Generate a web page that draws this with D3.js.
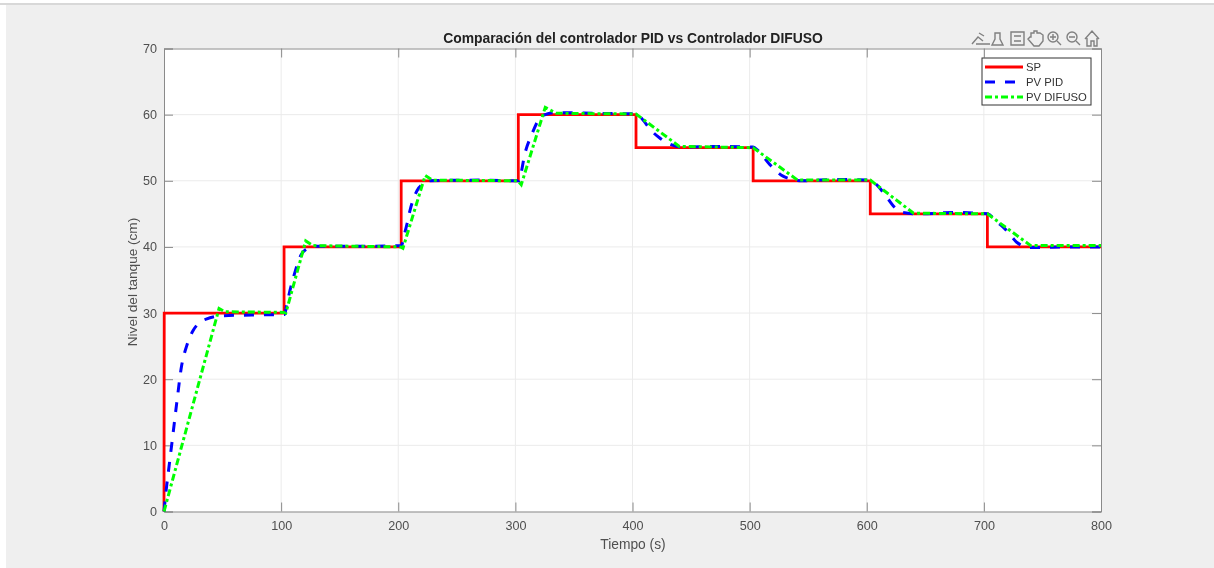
<!DOCTYPE html>
<html>
<head>
<meta charset="utf-8">
<script src="https://cdn.jsdelivr.net/npm/d3@7"></script>
<style>
  html, body { margin: 0; padding: 0; background: #fff; overflow: hidden; }
  text { font-family: "Liberation Sans", Arial, sans-serif; }
  svg { filter: blur(0.35px); }
</style>
</head>
<body>
<script>
// data
var xTicks = [0, 100, 200, 300, 400, 500, 600, 700, 800];
var yTicks = [0, 10, 20, 30, 40, 50, 60, 70];

var spTime = [0, 0.2, 102.5, 102.5, 202.5, 202.5, 302.5, 302.5, 403, 403, 503, 503, 603, 603, 703, 703, 800];
var spLevel = [0, 30, 30, 40, 40, 50, 50, 60, 60, 55, 55, 50, 50, 45, 45, 40, 40];

var pidTime = [0, 1.7, 4.3, 7.4, 10.8, 15, 19.3, 25, 36, 50, 75, 103, 104.5, 107, 112, 117, 122, 128, 170, 203, 204, 207.5, 210, 216, 222, 227, 270, 303, 304, 308, 314, 321, 327, 334.5, 370, 403, 409, 415, 423, 431, 442, 475, 503, 507, 517.5, 528.5, 534.5, 545, 575, 603, 609, 618, 622.7, 631, 645, 675, 703, 711, 716.5, 724, 728, 739.5, 775, 800];
var pidLevel = [0, 3, 6.8, 11.3, 16.3, 22, 25, 27.4, 29.1, 29.6, 29.7, 29.8, 31, 33, 36.3, 38.8, 39.7, 40.1, 40.1, 40.2, 41, 43.5, 45.5, 48.5, 49.6, 50, 50.1, 50, 50.5, 54, 57, 59.5, 60.1, 60.3, 60.2, 60.1, 59.2, 57.8, 56.5, 55.6, 55.1, 55.2, 55.1, 54.6, 52.4, 50.7, 50.3, 50, 50.2, 50.1, 49.3, 47.3, 46.2, 45.2, 45, 45.2, 45, 43.8, 43, 41.5, 40.7, 39.9, 40, 40];

var fuzzyTime = [0, 47, 52, 102, 104, 121, 127, 202, 204, 223, 229, 302, 305, 325.5, 335, 403, 440, 503, 541, 603, 640, 703, 740, 800];
var fuzzyLevel = [0, 30.7, 30.2, 30.1, 30, 40.9, 40.2, 40, 39.8, 50.8, 50.1, 50, 49.4, 61.1, 60.2, 60.1, 55.2, 55, 50.1, 50.1, 45.1, 45, 40.2, 40.2];

var legendLabels = ["SP", "PV PID", "PV DIFUSO"];

var margin = { top: 48.5, right: 113, bottom: 56.5, left: 164 },
    width = 1214 - margin.left - margin.right,
    height = 568 - margin.top - margin.bottom;

var axisColor = "#8a8a8a", textColor = "#4f4f4f";

var root = d3.select("body").append("svg")
    .attr("width", 1214)
    .attr("height", 568)
    .style("display", "block");

// figure background
root.append("rect").attr("x", 6).attr("y", 5).attr("width", 1208).attr("height", 563).attr("fill", "#efefef");
root.append("rect").attr("x", 0).attr("y", 3).attr("width", 1214).attr("height", 2).attr("fill", "#d8d8d8");

var svg = root.append("g")
    .attr("transform", "translate(" + margin.left + "," + margin.top + ")");

var xScale = d3.scaleLinear().domain([0, 800]).range([0, width]);
var yScale = d3.scaleLinear().domain([0, 70]).range([height, 0]);

svg.append("rect").attr("width", width).attr("height", height).attr("fill", "#fff");

// grid
svg.selectAll(".gx").data(xTicks.slice(1, -1)).enter().append("line")
    .attr("x1", function (d) { return xScale(d); })
    .attr("x2", function (d) { return xScale(d); })
    .attr("y1", 0).attr("y2", height)
    .attr("stroke", "#ebebeb");
svg.selectAll(".gy").data(yTicks.slice(1, -1)).enter().append("line")
    .attr("y1", function (d) { return yScale(d); })
    .attr("y2", function (d) { return yScale(d); })
    .attr("x1", 0).attr("x2", width)
    .attr("stroke", "#ebebeb");

// axes, ticks point inward like matlab
var xAxis = svg.append("g")
    .attr("transform", "translate(0," + height + ")")
    .call(d3.axisBottom(xScale).tickValues(xTicks).tickSize(-9).tickPadding(10));
var yAxis = svg.append("g")
    .call(d3.axisLeft(yScale).tickValues(yTicks).tickSize(-9).tickPadding(7));
var xTop = svg.append("g")
    .call(d3.axisTop(xScale).tickValues(xTicks).tickSize(-9).tickFormat(""));
var yRight = svg.append("g")
    .attr("transform", "translate(" + width + ",0)")
    .call(d3.axisRight(yScale).tickValues(yTicks).tickSize(-9).tickFormat(""));

[xAxis, yAxis, xTop, yRight].forEach(function (a) {
    a.selectAll("path, line").attr("stroke", axisColor);
    a.selectAll("text").attr("fill", textColor).style("font-size", "12.6px").style("font-family", '"Liberation Sans", Arial, sans-serif');
});

// curves
function series(xs, ys) {
    return xs.map(function (t, i) { return [t, ys[i]]; });
}
var line = d3.line()
    .x(function (d) { return xScale(d[0]); })
    .y(function (d) { return yScale(d[1]); });
var smoothLine = d3.line()
    .curve(d3.curveMonotoneX)
    .x(function (d) { return xScale(d[0]); })
    .y(function (d) { return yScale(d[1]); });

var styles = [
    { color: "#ff0000", dash: null, width: 2.8 },
    { color: "#0000ff", dash: "10,10", width: 3 },
    { color: "#00ff00", dash: "7,3,3,3", width: 3 }
];
var curves = [series(spTime, spLevel), series(pidTime, pidLevel), series(fuzzyTime, fuzzyLevel)];

svg.selectAll(".curve").data(curves).enter().append("path")
    .attr("d", function (d, i) { return i == 1 ? smoothLine(d) : line(d); })
    .attr("fill", "none")
    .attr("stroke", function (d, i) { return styles[i].color; })
    .attr("stroke-width", function (d, i) { return styles[i].width; })
    .attr("stroke-dasharray", function (d, i) { return styles[i].dash; });

// labels
root.append("text").attr("x", 633).attr("y", 42.5)
    .attr("text-anchor", "middle")
    .attr("font-weight", "bold").attr("font-size", 13.9).attr("fill", "#222")
    .text("Comparación del controlador PID vs Controlador DIFUSO");
root.append("text").attr("x", 633).attr("y", 549)
    .attr("text-anchor", "middle")
    .attr("font-size", 13.8).attr("fill", textColor)
    .text("Tiempo (s)");
root.append("text")
    .attr("transform", "translate(137,282) rotate(-90)")
    .attr("text-anchor", "middle")
    .attr("font-size", 13.6).attr("fill", textColor)
    .text("Nivel del tanque (cm)");

// legend
var legend = root.append("g").attr("transform", "translate(982,58)");
legend.append("rect").attr("width", 109).attr("height", 47)
    .attr("fill", "#fff").attr("stroke", "#333").attr("stroke-width", 1);
var legendItem = legend.selectAll(".item").data(legendLabels).enter().append("g")
    .attr("transform", function (d, i) { return "translate(3," + (9 + i * 15) + ")"; });
legendItem.append("line")
    .attr("x1", 0).attr("x2", 38)
    .attr("stroke", function (d, i) { return styles[i].color; })
    .attr("stroke-width", 3)
    .attr("stroke-dasharray", function (d, i) { return styles[i].dash; });
legendItem.append("text")
    .attr("x", 41).attr("y", 4)
    .attr("font-size", 11.3).attr("fill", "#333")
    .text(function (d) { return d; });

// axes toolbar
var icons = root.append("g").attr("fill", "none").attr("stroke", "#808080").attr("stroke-width", 1.4);
icons.append("path").attr("d", "M972 44 L978 37 L983 41 M976 44 L990 44 M979 33 L984 36");
icons.append("path").attr("d", "M995 33 L1000 33 L1000 39 L1003 45 L992 45 L995 39 Z");
icons.append("path").attr("d", "M1011 32 L1024 32 L1024 45 L1011 45 Z M1014 36 L1021 36 M1014 41 L1021 41");
icons.append("path").attr("d", "M1031 37 L1031 33 L1034 33 L1034 31 L1037 31 L1037 33 L1040 33 L1043 35 L1043 41 L1039 46 L1034 46 L1028 39 L1030 37 Z");
icons.append("circle").attr("cx", 1053).attr("cy", 37).attr("r", 5);
icons.append("path").attr("d", "M1057 41 L1061 45 M1050 37 L1056 37 M1053 34 L1053 40");
icons.append("circle").attr("cx", 1072).attr("cy", 37).attr("r", 5);
icons.append("path").attr("d", "M1076 41 L1080 45 M1069 37 L1075 37");
icons.append("path").attr("d", "M1085 39 L1092 31 L1099 39 M1087 38 L1087 46 L1091 46 L1091 41 L1094 41 L1094 46 L1097 46 L1097 38");
</script>
</body>
</html>
